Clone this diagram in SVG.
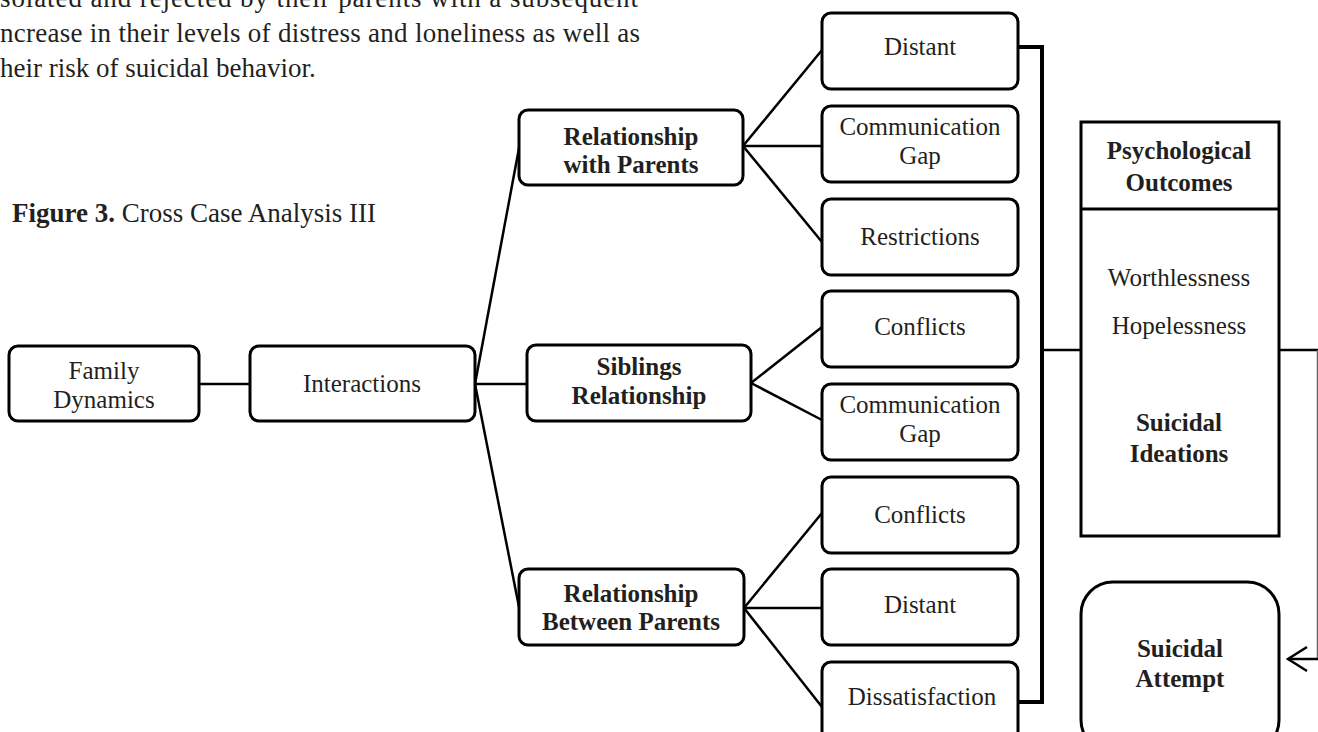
<svg xmlns="http://www.w3.org/2000/svg" width="1318" height="732" viewBox="0 0 1318 732">
<defs>
<style>
.bx{fill:#fff;stroke:#000;stroke-width:3}
.ln{fill:none;stroke:#000;stroke-width:2.5}
.br{fill:none;stroke:#000;stroke-width:4}
.t{font-family:"Liberation Serif","Times New Roman",serif;font-size:25px;fill:#231f20;text-anchor:middle}
.b{font-weight:bold}
.p{font-family:"Liberation Serif","Times New Roman",serif;font-size:27px;fill:#231f20}
</style>
</defs>
<rect width="1318" height="732" fill="#fff"/>
<g id="paragraph">
<text class="p" x="0" y="7" textLength="638" lengthAdjust="spacing">solated and rejected by their parents with a subsequent</text>
<text class="p" x="0" y="42" textLength="640" lengthAdjust="spacing">ncrease in their levels of distress and loneliness as well as</text>
<text class="p" x="0" y="77">heir risk of suicidal behavior.</text>
</g>
<g id="caption">
<text class="p" x="12" y="222"><tspan font-weight="bold">Figure 3.</tspan> Cross Case Analysis III</text>
</g>
<g id="connectors">
<line class="ln" x1="199" y1="384" x2="250" y2="384"/>
<line class="ln" x1="475" y1="384" x2="519" y2="148"/>
<line class="ln" x1="475" y1="384" x2="527" y2="384"/>
<line class="ln" x1="475" y1="384" x2="519" y2="607"/>
<line class="ln" x1="743" y1="146" x2="822" y2="50"/>
<line class="ln" x1="743" y1="146" x2="822" y2="146"/>
<line class="ln" x1="743" y1="146" x2="822" y2="242"/>
<line class="ln" x1="751" y1="383" x2="822" y2="327"/>
<line class="ln" x1="751" y1="383" x2="822" y2="420"/>
<line class="ln" x1="744" y1="608" x2="822" y2="513"/>
<line class="ln" x1="744" y1="608" x2="822" y2="608"/>
<line class="ln" x1="744" y1="608" x2="822" y2="707"/>
<polyline class="br" points="1018,47 1042,47 1042,702 1018,702"/>
<line class="ln" x1="1042" y1="350" x2="1081" y2="350" stroke-width="3"/>
<line class="ln" x1="1279" y1="350" x2="1318" y2="350"/>
<line x1="1317.5" y1="350" x2="1317.5" y2="659" stroke="#666" stroke-width="1.5"/>
<line class="ln" x1="1318" y1="659" x2="1288" y2="659"/>
<polyline class="ln" points="1307,647 1288,659 1307,671"/>
</g>
<g id="family-dynamics">
<rect class="bx" x="9" y="346" width="190" height="75" rx="9"/>
<text class="t" x="104" y="379">Family</text>
<text class="t" x="104" y="408">Dynamics</text>
</g>
<g id="interactions">
<rect class="bx" x="250" y="346" width="225" height="75" rx="9"/>
<text class="t" x="362" y="392">Interactions</text>
</g>
<g id="relationship-with-parents">
<rect class="bx" x="519" y="110" width="224" height="75" rx="9"/>
<text class="t b" x="631" y="145">Relationship</text>
<text class="t b" x="631" y="173">with Parents</text>
</g>
<g id="siblings-relationship">
<rect class="bx" x="527" y="345" width="224" height="76" rx="9"/>
<text class="t b" x="639" y="375">Siblings</text>
<text class="t b" x="639" y="404">Relationship</text>
</g>
<g id="relationship-between-parents">
<rect class="bx" x="519" y="569" width="225" height="76" rx="9"/>
<text class="t b" x="631" y="602">Relationship</text>
<text class="t b" x="631" y="630">Between Parents</text>
</g>
<g id="distant-1">
<rect class="bx" x="822" y="13" width="196" height="76" rx="9"/>
<text class="t" x="920" y="55">Distant</text>
</g>
<g id="communication-gap-1">
<rect class="bx" x="822" y="106" width="196" height="76" rx="9"/>
<text class="t" x="920" y="135">Communication</text>
<text class="t" x="920" y="164">Gap</text>
</g>
<g id="restrictions">
<rect class="bx" x="822" y="199" width="196" height="76" rx="9"/>
<text class="t" x="920" y="245">Restrictions</text>
</g>
<g id="conflicts-1">
<rect class="bx" x="822" y="291" width="196" height="76" rx="9"/>
<text class="t" x="920" y="335">Conflicts</text>
</g>
<g id="communication-gap-2">
<rect class="bx" x="822" y="384" width="196" height="76" rx="9"/>
<text class="t" x="920" y="413">Communication</text>
<text class="t" x="920" y="442">Gap</text>
</g>
<g id="conflicts-2">
<rect class="bx" x="822" y="477" width="196" height="76" rx="9"/>
<text class="t" x="920" y="523">Conflicts</text>
</g>
<g id="distant-2">
<rect class="bx" x="822" y="569" width="196" height="76" rx="9"/>
<text class="t" x="920" y="613">Distant</text>
</g>
<g id="dissatisfaction">
<rect class="bx" x="822" y="662" width="196" height="80" rx="9"/>
<text class="t" x="922" y="705">Dissatisfaction</text>
</g>
<g id="psychological-outcomes">
<rect class="bx" x="1081" y="122" width="198" height="414"/>
<line class="bx" x1="1081" y1="209" x2="1279" y2="209"/>
<text class="t b" x="1179" y="159">Psychological</text>
<text class="t b" x="1179" y="191">Outcomes</text>
<text class="t" x="1179" y="286">Worthlessness</text>
<text class="t" x="1179" y="334">Hopelessness</text>
<text class="t b" x="1179" y="431">Suicidal</text>
<text class="t b" x="1179" y="462">Ideations</text>
</g>
<g id="suicidal-attempt">
<rect class="bx" x="1081" y="582" width="198" height="170" rx="32"/>
<text class="t b" x="1180" y="657">Suicidal</text>
<text class="t b" x="1180" y="687">Attempt</text>
</g>
</svg>
